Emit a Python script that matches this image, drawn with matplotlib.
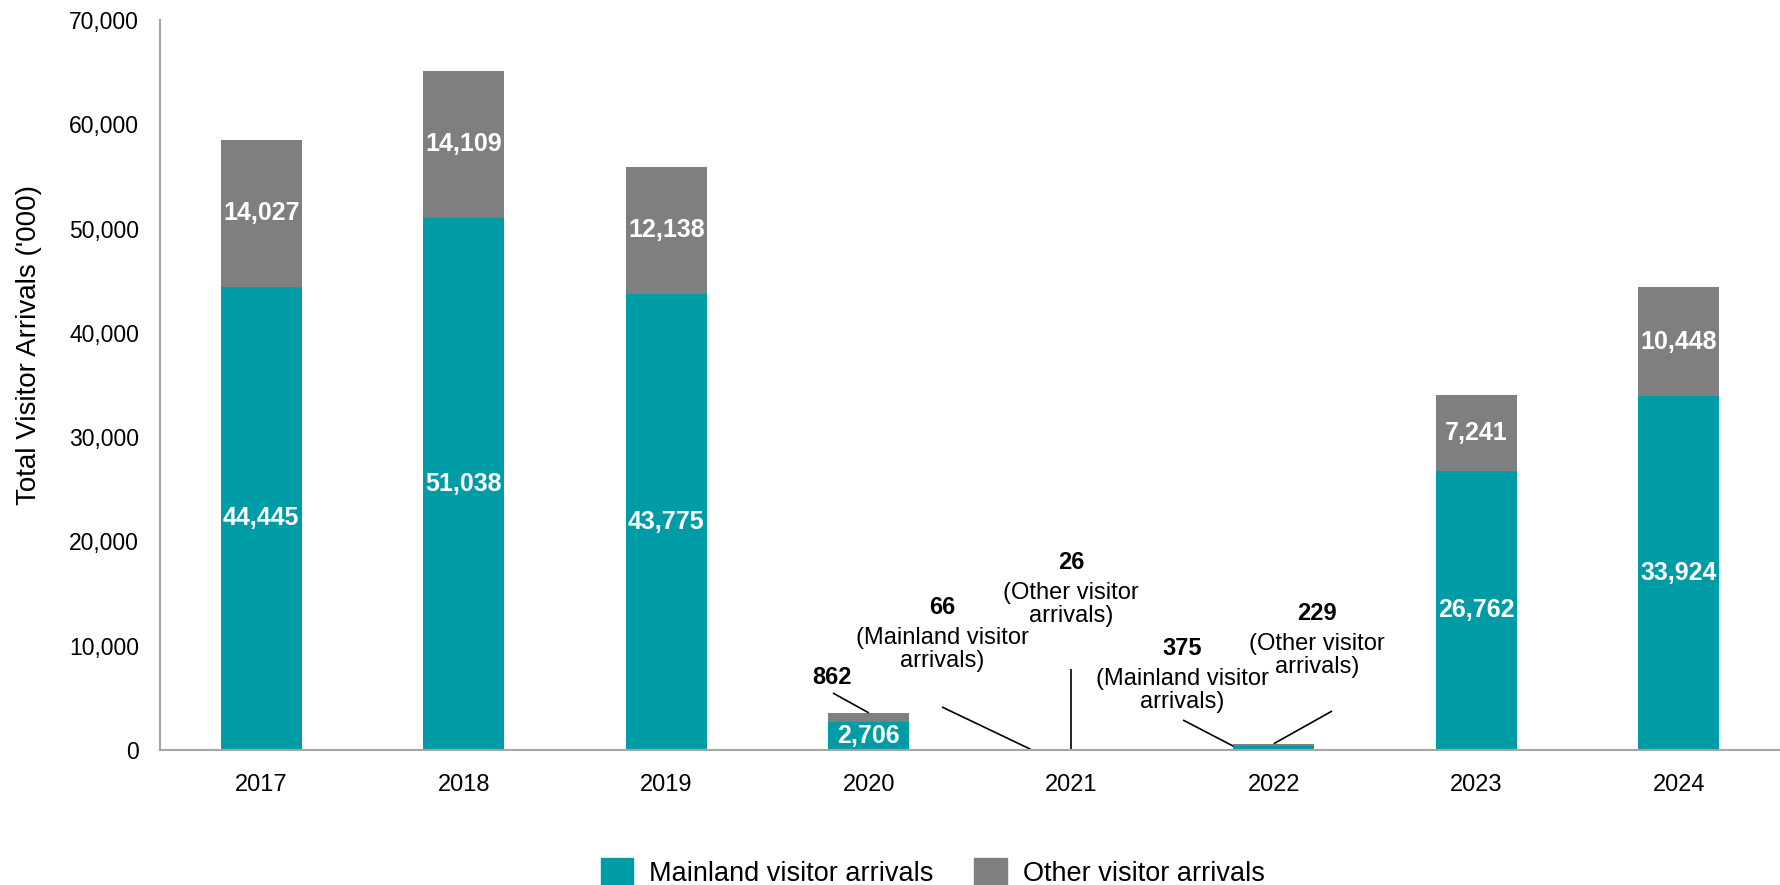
import numpy as np
from matplotlib import pyplot as plt
from matplotlib.patches import Patch

plt.rcParams['font.family'] = ['Liberation Sans', 'DejaVu Sans']

years = ['2017', '2018', '2019', '2020', '2021', '2022', '2023', '2024']
mainland = [44445, 51038, 43775, 2706, 66, 375, 26762, 33924]
other = [14027, 14109, 12138, 862, 26, 229, 7241, 10448]
y_ticks = [0, 10000, 20000, 30000, 40000, 50000, 60000, 70000]

teal = '#009CA6'
grey = '#7F7F7F'
axis_grey = '#A6A6A6'

fig = plt.figure(figsize=(17.8, 8.85), dpi=100)
ax = fig.add_axes([0.0899, 0.1525, 0.9101, 0.8249])

x = np.arange(len(years))
width = 0.4
ax.bar(x, mainland, width, color=teal, label='Mainland visitor arrivals')
ax.bar(x, other, width, bottom=mainland, color=grey, label='Other visitor arrivals')

# values inside the big bars
for i in range(len(years)):
    if mainland[i] > 2000:
        ax.text(x[i], mainland[i] / 2, f'{mainland[i]:,}', ha='center', va='center',
                color='white', fontsize=18, fontweight='bold')
    if other[i] > 5000:
        ax.text(x[i], mainland[i] + other[i] / 2, f'{other[i]:,}', ha='center', va='center',
                color='white', fontsize=18, fontweight='bold')


def callout(val, tx, ty, lx, ly, px, py, desc=None):
    # bold number, optional description under it, leader line to the bar
    ax.text(tx, ty, f'{val:,}', ha='center', va='center', fontsize=17, fontweight='bold')
    if desc is not None:
        ax.text(tx, ty - 4100, desc, ha='center', va='center', fontsize=17, linespacing=1.05)
    ax.plot([lx, px], [ly, py], color='black', lw=1.2, solid_capstyle='butt')


callout(other[3], 2.818, 7000, 2.823, 5466, 3.0, mainland[3] + other[3])
callout(mainland[4], 3.362, 13712, 3.362, 4123, 3.8, mainland[4], '(Mainland visitor\narrivals)')
callout(other[4], 4.0, 18027, 4.0, 7767, 4.0, mainland[4] + other[4], '(Other visitor\narrivals)')
callout(mainland[5], 4.547, 9781, 4.552, 2877, 4.8, mainland[5], '(Mainland visitor\narrivals)')
callout(other[5], 5.214, 13137, 5.288, 3740, 5.0, mainland[5] + other[5], '(Other visitor\narrivals)')

ax.set_xlim(-0.5, len(years) - 0.5)
ax.set_ylim(0, 70000)
ax.set_xticks(x)
ax.set_xticklabels(years)
ax.set_yticks(y_ticks)
ax.set_yticklabels([f'{v:,}' for v in y_ticks])
ax.tick_params(axis='both', length=0)
ax.tick_params(axis='y', pad=15, labelsize=16.5)
ax.tick_params(axis='x', pad=17, labelsize=17)

for side in ['top', 'right']:
    ax.spines[side].set_visible(False)
for side in ['left', 'bottom']:
    ax.spines[side].set_color(axis_grey)
    ax.spines[side].set_linewidth(1.5)

ax.set_ylabel("Total Visitor Arrivals ('000)", fontsize=20)
ax.yaxis.set_label_coords(-0.073, 0.555)

handles = [Patch(color=teal, label='Mainland visitor arrivals'),
           Patch(color=grey, label='Other visitor arrivals')]
fig.legend(handles=handles, loc='upper center', bbox_to_anchor=(0.524, 0.043),
           ncol=2, frameon=False, fontsize=19.5, handlelength=1.2, handleheight=1.2,
           columnspacing=1.5, handletextpad=0.6, borderaxespad=0)

fig.savefig('out.png', dpi=100)
plt.close()
